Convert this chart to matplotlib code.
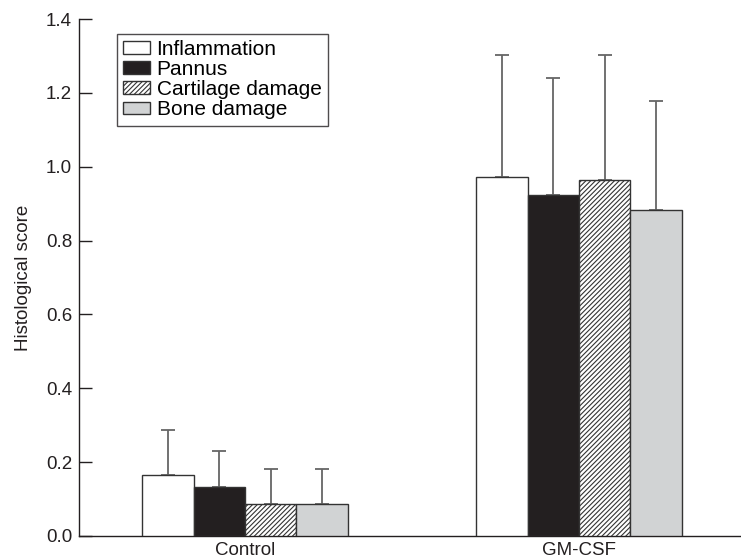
import numpy as np
import matplotlib
matplotlib.use("Agg")
import matplotlib.pyplot as plt

plt.rcParams['font.family'] = ['Liberation Sans', 'DejaVu Sans']

# data
groups = ["Control", "GM-CSF"]
series = ["Inflammation", "Pannus", "Cartilage damage", "Bone damage"]
means = {
    "Inflammation":     [0.164, 0.971],
    "Pannus":           [0.134, 0.923],
    "Cartilage damage": [0.088, 0.965],
    "Bone damage":      [0.088, 0.884],
}
errors = {
    "Inflammation":     [0.124, 0.332],
    "Pannus":           [0.097, 0.316],
    "Cartilage damage": [0.094, 0.338],
    "Bone damage":      [0.094, 0.293],
}
y_ticks = [0.0, 0.2, 0.4, 0.6, 0.8, 1.0, 1.2, 1.4]

styles = {
    "Inflammation":     dict(color="white", hatch=None),
    "Pannus":           dict(color="#231f20", hatch=None),
    "Cartilage damage": dict(color="white", hatch="///////"),
    "Bone damage":      dict(color="#d1d3d4", hatch=None),
}

plt.rcParams['hatch.linewidth'] = 0.8
plt.rcParams['hatch.color'] = '#231f20'

fig = plt.figure(figsize=(7.41, 5.59), dpi=100)
ax = fig.add_axes([79 / 741, 1 - 536 / 559, 1 - 79 / 741, (536 - 19) / 559])

x = np.arange(len(groups))
width = 0.154
offsets = (np.arange(len(series)) - 1.5) * width

for name, off in zip(series, offsets):
    st = styles[name]
    vals = means[name]
    err = errors[name]
    ax.bar(x + off, vals, width, color=st["color"], hatch=st["hatch"],
           edgecolor="#333333", linewidth=1.0, label=name, zorder=3,
           yerr=[np.zeros(len(err)), err],
           error_kw=dict(ecolor="#666666", elinewidth=1.3, capsize=4.7,
                         capthick=1.3, zorder=2))

ax.set_xlim(-0.497, 1.485)
ax.set_ylim(0, 1.4)
ax.set_yticks(y_ticks)
ax.set_yticklabels([f"{v:.1f}" for v in y_ticks], fontsize=13.5, color="#231f20")
ax.set_xticks(x)
ax.set_xticklabels(groups, fontsize=13.5, color="#231f20")
ax.tick_params(axis="y", direction="in", length=9.4, width=1.0, pad=5, color="#231f20")
ax.tick_params(axis="x", length=0, pad=4)

for s in ["top", "right"]:
    ax.spines[s].set_visible(False)
for s in ["left", "bottom"]:
    ax.spines[s].set_color("#231f20")
    ax.spines[s].set_linewidth(1.0)

ax.set_ylabel("Histological score", fontsize=13.5, color="#231f20", labelpad=10)

leg = ax.legend(loc="upper left", bbox_to_anchor=(0.0574, 0.971),
                borderaxespad=0, fontsize=15, frameon=True, fancybox=False,
                handlelength=1.3, handleheight=0.58, handletextpad=0.3,
                labelspacing=0.05, borderpad=0.3)
leg.get_frame().set_edgecolor("#231f20")
leg.get_frame().set_linewidth(1.0)

fig.savefig("out.png", dpi=100)
